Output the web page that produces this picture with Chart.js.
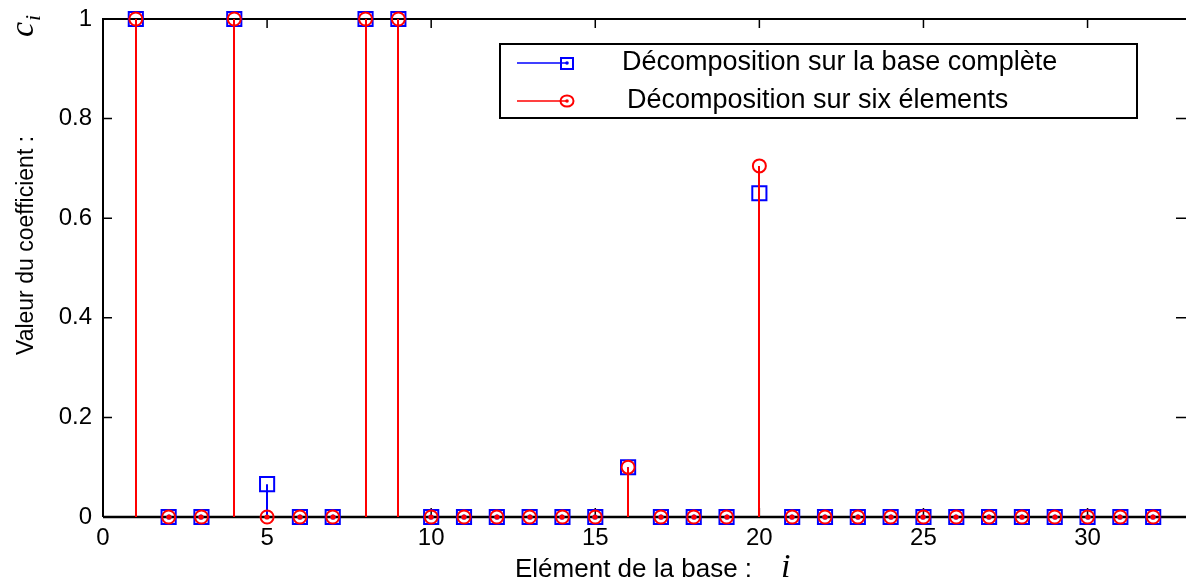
<!DOCTYPE html>
<html>
<head>
<meta charset="utf-8">
<script src="https://cdn.jsdelivr.net/npm/chart.js@4/dist/chart.umd.min.js"></script>
<style>
  html, body { margin: 0; padding: 0; background: #fff; }
  #wrap { width: 1186px; height: 581px; }
</style>
</head>
<body>
<div id="wrap"><canvas id="chart" width="1186" height="581"></canvas></div>
<script>
// element index i = 1..32
var indices = [1,2,3,4,5,6,7,8,9,10,11,12,13,14,15,16,17,18,19,20,21,22,23,24,25,26,27,28,29,30,31,32];
// coefficients, decomposition on the full base
var fullBase = [1,0,0,1,0.066,0,0,1,1,0,0,0,0,0,0,0.1,0,0,0,0.65,0,0,0,0,0,0,0,0,0,0,0,0];
// coefficients, decomposition on six elements
var sixElements = [1,0,0,1,0,0,0,1,1,0,0,0,0,0,0,0.1,0,0,0,0.705,0,0,0,0,0,0,0,0,0,0,0,0];
var xTicks = [0,5,10,15,20,25,30];
var yTicks = [0,0.2,0.4,0.6,0.8,1];
var seriesNames = ['Décomposition sur la base complète', 'Décomposition sur six élements'];
var seriesColors = ['#0000ff', '#ff0000'];

var FONT = '"Liberation Sans", Arial, sans-serif';
var MATH = '"Liberation Serif", "Times New Roman", serif';

var toPoints = function(vals){
  return indices.map(function(x, k){ return {x: x, y: vals[k]}; });
};

// stems under each series, drawn right before its markers
var stemPlugin = {
  id: 'stems',
  beforeDatasetsDraw: function(chart){
    var ctx = chart.ctx, xs = chart.scales.x, ys = chart.scales.y;
    var a = chart.chartArea;
    ctx.save();
    ctx.strokeStyle = '#000';
    ctx.lineWidth = 2;
    // frame: left, top
    ctx.beginPath();
    ctx.moveTo(a.left, a.bottom);
    ctx.lineTo(a.left, a.top);
    ctx.lineTo(a.right, a.top);
    ctx.stroke();
    // inward ticks
    ctx.lineWidth = 1.5;
    ctx.beginPath();
    xTicks.forEach(function(v){
      var px = xs.getPixelForValue(v);
      ctx.moveTo(px, a.bottom); ctx.lineTo(px, a.bottom - 9);
      ctx.moveTo(px, a.top); ctx.lineTo(px, a.top + 9);
    });
    yTicks.forEach(function(v){
      var py = ys.getPixelForValue(v);
      ctx.moveTo(a.left, py); ctx.lineTo(a.left + 9, py);
      ctx.moveTo(a.right, py); ctx.lineTo(a.right - 10, py);
    });
    ctx.stroke();
    // baseline y = 0
    ctx.lineWidth = 2.5;
    ctx.beginPath();
    ctx.moveTo(a.left, ys.getPixelForValue(0));
    ctx.lineTo(a.right, ys.getPixelForValue(0));
    ctx.stroke();
    ctx.restore();
  },
  beforeDatasetDraw: function(chart, args){
    var ctx = chart.ctx, xs = chart.scales.x, ys = chart.scales.y;
    var ds = chart.data.datasets[args.index];
    var y0 = ys.getPixelForValue(0);
    ctx.save();
    ctx.strokeStyle = ds.borderColor;
    ctx.fillStyle = ds.borderColor;
    ctx.lineWidth = 2;
    ds.data.forEach(function(p){
      var px = Math.round(xs.getPixelForValue(p.x)), py = ys.getPixelForValue(p.y);
      if (p.y === 0) {
        ctx.beginPath();
        ctx.arc(px, py, 2.6, 0, Math.PI * 2);
        ctx.fill();
      } else {
        ctx.beginPath();
        ctx.moveTo(px, y0);
        ctx.lineTo(px, py);
        ctx.stroke();
      }
    });
    ctx.restore();
  },
  afterDraw: function(chart){
    var ctx = chart.ctx;
    ctx.save();
    ctx.fillStyle = '#000';
    ctx.textBaseline = 'alphabetic';

    // x axis title
    ctx.font = '26px ' + FONT;
    ctx.textAlign = 'left';
    ctx.fillText('Elément de la base :', 515, 577);
    ctx.font = 'italic 34px ' + MATH;
    ctx.fillText('i', 781, 577);

    // y axis title
    ctx.translate(33, 355);
    ctx.rotate(-Math.PI / 2);
    ctx.font = '23px ' + FONT;
    ctx.fillText('Valeur du coefficient :', 0, 0);
    ctx.font = 'italic 34px ' + MATH;
    ctx.fillText('c', 318, 0);
    ctx.font = 'italic 22px ' + MATH;
    ctx.fillText('i', 334, 7);
    ctx.setTransform(1, 0, 0, 1, 0, 0);

    // legend box
    ctx.strokeStyle = '#000';
    ctx.lineWidth = 2;
    ctx.fillStyle = '#fff';
    ctx.fillRect(500, 44, 637, 74);
    ctx.strokeRect(500, 44, 637, 74);

    var rows = [63, 101];
    var textX = [622, 627];
    rows.forEach(function(ry, k){
      var c = seriesColors[k];
      ctx.strokeStyle = c;
      ctx.fillStyle = c;
      ctx.lineWidth = 1.5;
      ctx.beginPath();
      ctx.moveTo(517, ry); ctx.lineTo(567, ry);
      ctx.stroke();
      ctx.lineWidth = 2;
      ctx.beginPath();
      if (k === 0) ctx.rect(561, ry - 5, 12, 11);
      else ctx.ellipse(567, ry, 6.5, 5.5, 0, 0, Math.PI * 2);
      ctx.stroke();
      ctx.beginPath();
      ctx.arc(567, ry, 1.8, 0, Math.PI * 2);
      ctx.fill();
      ctx.fillStyle = '#000';
      ctx.font = '27px ' + FONT;
      ctx.textBaseline = 'middle';
      ctx.fillText(seriesNames[k], textX[k], ry);
    });
    ctx.restore();
  }
};

new Chart(document.getElementById('chart').getContext('2d'), {
  type: 'scatter',
  data: {
    datasets: [
      {
        label: seriesNames[0],
        data: toPoints(fullBase),
        borderColor: seriesColors[0],
        backgroundColor: 'rgba(0,0,0,0)',
        pointStyle: 'rect',
        pointRadius: 10,
        pointBorderWidth: 2,
        showLine: false,
        clip: false,
        order: 2
      },
      {
        label: seriesNames[1],
        data: toPoints(sixElements),
        borderColor: seriesColors[1],
        backgroundColor: 'rgba(0,0,0,0)',
        pointStyle: 'circle',
        pointRadius: 6.5,
        pointBorderWidth: 2,
        showLine: false,
        clip: false,
        order: 1
      }
    ]
  },
  options: {
    responsive: false,
    animation: false,
    layout: { autoPadding: false, padding: { top: 19, right: 0, left: 0, bottom: 0 } },
    plugins: { legend: { display: false }, tooltip: { enabled: false } },
    scales: {
      x: {
        type: 'linear',
        min: 0,
        max: 33,
        afterBuildTicks: function(s){ s.ticks = xTicks.map(function(v){ return {value: v}; }); },
        afterFit: function(s){ s.height = 64; s.paddingLeft = 0; s.paddingRight = 0; },
        grid: { display: false, drawTicks: false },
        border: { display: false },
        ticks: { color: '#000', padding: 7, maxRotation: 0, font: { family: FONT, size: 24 } }
      },
      y: {
        type: 'linear',
        min: 0,
        max: 1,
        afterBuildTicks: function(s){ s.ticks = yTicks.map(function(v){ return {value: v}; }); },
        afterFit: function(s){ s.width = 103; s.paddingTop = 0; s.paddingBottom = 0; },
        grid: { display: false, drawTicks: false },
        border: { display: false },
        ticks: {
          color: '#000', padding: 11, font: { family: FONT, size: 24 },
          callback: function(v){ return String(Math.round(v * 10) / 10); }
        }
      }
    }
  },
  plugins: [stemPlugin]
});
</script>
</body>
</html>
